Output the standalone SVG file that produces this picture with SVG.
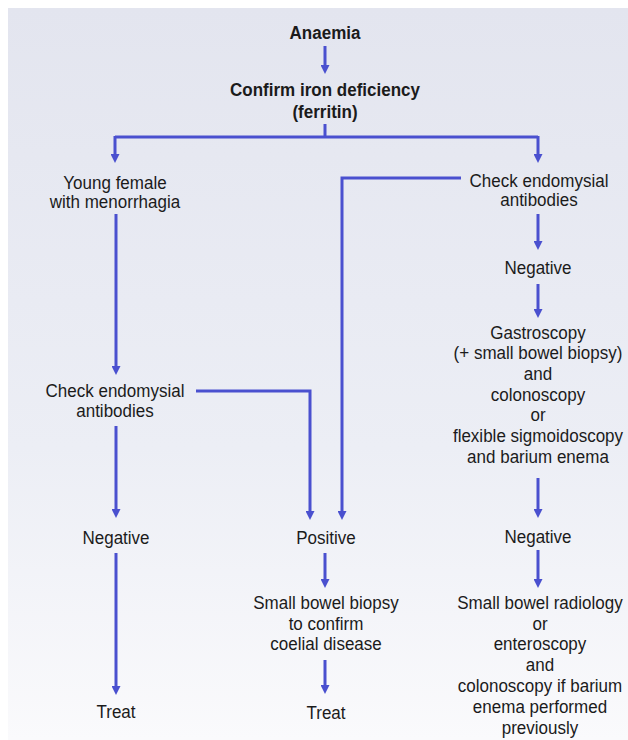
<svg xmlns="http://www.w3.org/2000/svg" width="628" height="740" viewBox="0 0 628 740">
  <defs>
    <linearGradient id="bg" x1="0" y1="0" x2="0" y2="1">
      <stop offset="0" stop-color="#e3e5ef"/>
      <stop offset="0.6" stop-color="#eceef5"/>
      <stop offset="1" stop-color="#fafafc"/>
    </linearGradient>
    <marker id="head" viewBox="-5 0 10 10" refX="0" refY="0" markerWidth="9" markerHeight="10" markerUnits="userSpaceOnUse" orient="0">
      <path d="M-5,0 L5,0 L0,10 Z" fill="#4a50cf"/>
    </marker>
  </defs>
  <style>
    .t { font-family: "Liberation Sans", Arial, sans-serif; font-size: 18.5px; fill: #1b1b1b; text-anchor: middle;
         transform-box: fill-box; transform-origin: center; transform: scaleX(0.92); }
    .b { font-weight: bold; }
    .c { fill: none; stroke: #4a50cf; stroke-width: 3; }
    .a { marker-end: url(#head); }
  </style>

  <rect x="0" y="0" width="628" height="740" fill="#ffffff"/>
  <rect x="8" y="8" width="620" height="732" fill="url(#bg)"/>

  <!-- connectors -->
  <g id="connectors">
    <path class="c a" d="M325,46 V65"/>
    <path class="c" d="M325,124 V137"/>
    <path class="c" d="M115,137 H538"/>
    <path class="c a" d="M115,136 V154"/>
    <path class="c a" d="M538,136 V154"/>
    <path class="c a" d="M116,214 V366"/>
    <path class="c a" d="M461,178 H342 V511"/>
    <path class="c a" d="M196,391 H310 V511"/>
    <path class="c a" d="M116,426 V509"/>
    <path class="c a" d="M116,553 V686"/>
    <path class="c a" d="M325,553 V579"/>
    <path class="c a" d="M325,660 V685"/>
    <path class="c a" d="M538,214 V241"/>
    <path class="c a" d="M538,284 V309"/>
    <path class="c a" d="M538,478 V509"/>
    <path class="c a" d="M538,550 V579"/>
  </g>

  <!-- nodes -->
  <g id="anaemia"><text class="t b" x="325" y="39">Anaemia</text></g>
  <g id="confirm-iron">
    <text class="t b" x="325" y="96">Confirm iron deficiency</text>
    <text class="t b" x="325" y="118">(ferritin)</text>
  </g>
  <g id="young-female">
    <text class="t" x="115" y="189">Young female</text>
    <text class="t" x="115" y="208">with menorrhagia</text>
  </g>
  <g id="check-right">
    <text class="t" x="539" y="187">Check endomysial</text>
    <text class="t" x="539" y="206">antibodies</text>
  </g>
  <g id="check-left">
    <text class="t" x="115" y="397">Check endomysial</text>
    <text class="t" x="115" y="417">antibodies</text>
  </g>
  <g id="negative-left"><text class="t" x="116" y="544">Negative</text></g>
  <g id="treat-left"><text class="t" x="116" y="718">Treat</text></g>
  <g id="positive"><text class="t" x="326" y="544">Positive</text></g>
  <g id="biopsy">
    <text class="t" x="326" y="609">Small bowel biopsy</text>
    <text class="t" x="326" y="630">to confirm</text>
    <text class="t" x="326" y="650">coelial disease</text>
  </g>
  <g id="treat-middle"><text class="t" x="326" y="719">Treat</text></g>
  <g id="negative-right-1"><text class="t" x="538" y="274">Negative</text></g>
  <g id="gastroscopy">
    <text class="t" x="538" y="339">Gastroscopy</text>
    <text class="t" x="538" y="359">(+ small bowel biopsy)</text>
    <text class="t" x="538" y="380">and</text>
    <text class="t" x="538" y="401">colonoscopy</text>
    <text class="t" x="538" y="421">or</text>
    <text class="t" x="538" y="442">flexible sigmoidoscopy</text>
    <text class="t" x="538" y="463">and barium enema</text>
  </g>
  <g id="negative-right-2"><text class="t" x="538" y="543">Negative</text></g>
  <g id="radiology">
    <text class="t" x="540" y="609">Small bowel radiology</text>
    <text class="t" x="540" y="630">or</text>
    <text class="t" x="540" y="650">enteroscopy</text>
    <text class="t" x="540" y="671">and</text>
    <text class="t" x="540" y="692">colonoscopy if barium</text>
    <text class="t" x="540" y="713">enema performed</text>
    <text class="t" x="540" y="734">previously</text>
  </g>
</svg>
